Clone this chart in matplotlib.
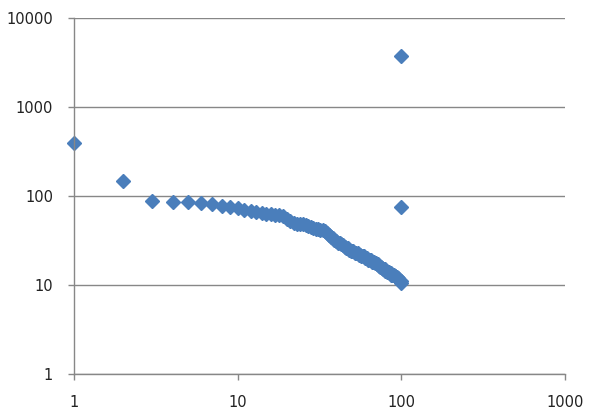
import matplotlib
matplotlib.use('Agg')
import matplotlib.pyplot as plt

# values (log-log scatter)
x_vals = list(range(1, 101))
y_vals = [397, 147, 89, 86, 86, 83, 82, 78, 75, 73,
          70, 68, 66, 64, 63, 62, 61, 61, 60, 55,
          52, 50, 49, 48, 48, 47, 46, 45, 44, 43,
          43, 42, 42, 40, 38, 36, 35, 34, 32, 31,
          30, 30, 29, 28, 27, 26, 26, 25, 24, 24,
          24, 23, 23, 23, 22, 22, 21, 21, 21, 20,
          20, 20, 19, 19, 19, 18, 18, 18, 17.5, 17.5,
          17, 17, 16.5, 16, 16, 15.5, 15, 15, 15, 14.5,
          14.5, 14, 14, 14, 13.5, 13.5, 13, 13, 13, 12.8,
          12.6, 12.5, 12.3, 12.2, 12, 11.7, 11.4, 11.2, 11, 10.6]
outlier_x = [100, 100]
outlier_y = [3750, 75]

x_ticks = [1, 10, 100, 1000]
x_labels = ['1', '10', '100', '1000']
y_ticks = [1, 10, 100, 1000, 10000]
y_labels = ['1', '10', '100', '1000', '10000']

color = '#4A7EBB'
grey = '#878787'

fig = plt.figure(figsize=(5.98, 4.17), dpi=100)
ax = fig.add_axes([0.1237, 0.1031, 0.8211, 0.8537])

ax.plot(x_vals, y_vals, linestyle='none', marker='D', ms=7.2, color=color, clip_on=False)
ax.plot(outlier_x, outlier_y, linestyle='none', marker='D', ms=7.2, color=color, clip_on=False)

ax.set_xscale('log')
ax.set_yscale('log')
ax.set_xlim(1, 1000)
ax.set_ylim(1, 10000)
ax.set_xticks(x_ticks)
ax.set_xticklabels(x_labels)
ax.set_yticks(y_ticks)
ax.set_yticklabels(y_labels)
ax.minorticks_off()

ax.grid(axis='y', color=grey, linewidth=1.0)
ax.set_axisbelow(True)
for side in ['top', 'right']:
    ax.spines[side].set_visible(False)
for side in ['left', 'bottom']:
    ax.spines[side].set_color(grey)
    ax.spines[side].set_linewidth(1.0)

ax.tick_params(axis='both', direction='out', length=4, width=1.0, color=grey,
               labelsize=10.5, labelcolor='#222222')
ax.tick_params(axis='y', pad=11)
ax.tick_params(axis='x', pad=11)

fig.savefig('out.png', dpi=100)
